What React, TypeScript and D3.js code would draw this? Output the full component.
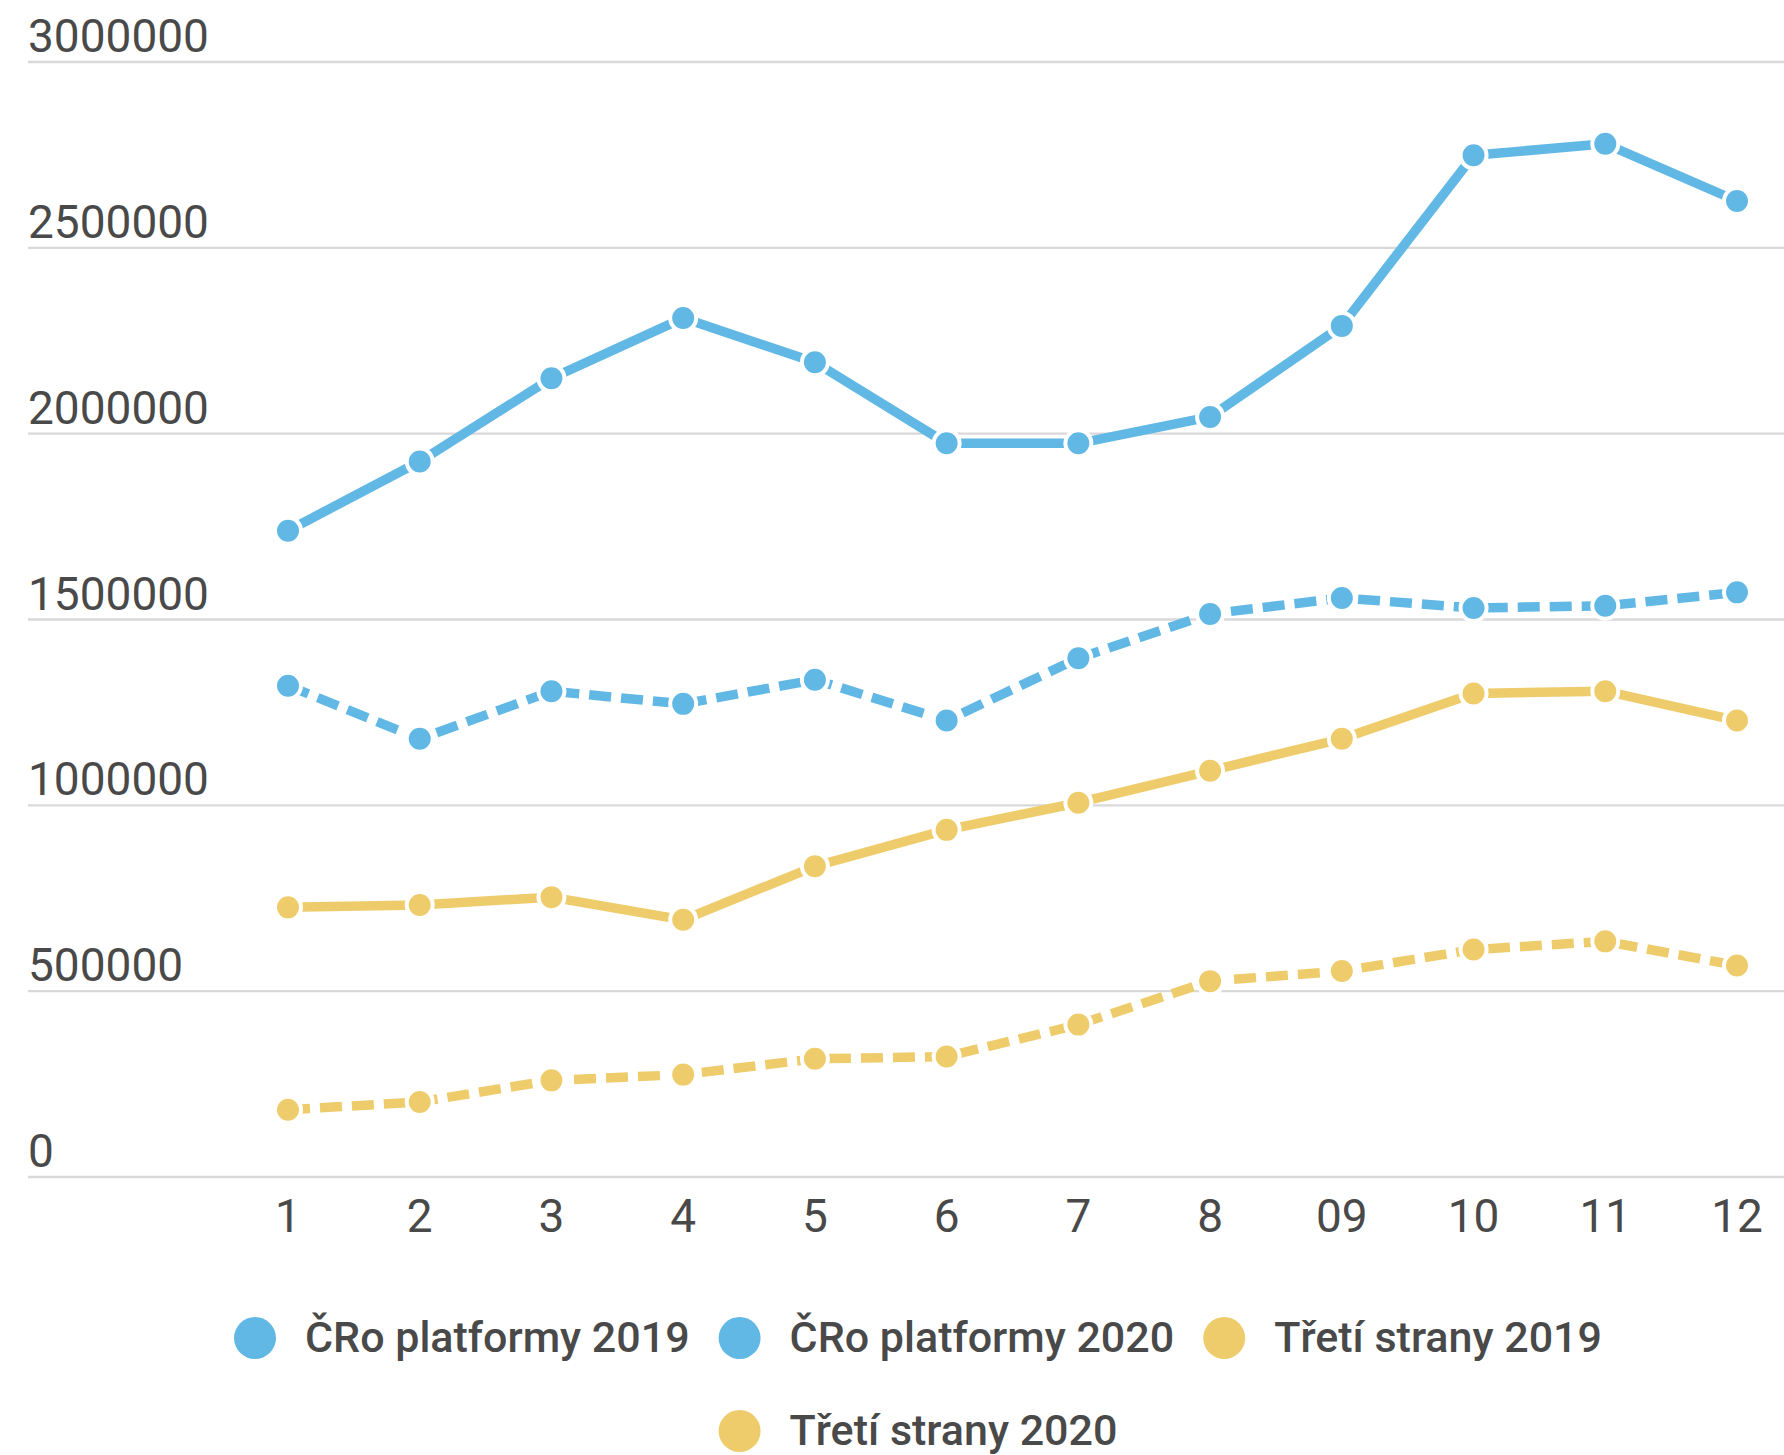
import React, { useEffect, useRef } from "react";
import * as d3 from "d3";

const months = ["1", "2", "3", "4", "5", "6", "7", "8", "09", "10", "11", "12"];
const yTicks = [0, 500000, 1000000, 1500000, 2000000, 2500000, 3000000];

const cro2019 = [1739000, 1925000, 2149000, 2311000, 2192000, 1974000, 1974000, 2045000, 2290000, 2749000, 2780000, 2626000];
const cro2020 = [1322000, 1179000, 1307000, 1273000, 1338000, 1228000, 1396000, 1515000, 1558000, 1531000, 1537000, 1573000];
const treti2019 = [725500, 732000, 753000, 692000, 836000, 934000, 1007000, 1093000, 1179000, 1301000, 1307000, 1228000];
const treti2020 = [181000, 202000, 260000, 275500, 318000, 324000, 410000, 527000, 554000, 612000, 634000, 569000];

const seriesNames = ["ČRo platformy 2019", "ČRo platformy 2020", "Třetí strany 2019", "Třetí strany 2020"];
const seriesValues = [cro2019, cro2020, treti2019, treti2020];
const seriesColors = ["#62b8e5", "#62b8e5", "#efcc6b", "#efcc6b"];
const seriesDashed = [false, true, false, true];

const W = 1784;
const H = 1455;
const FONT = "Roboto, 'Noto Sans', sans-serif";
const TEXT = "#494949";

export default function App() {
  const ref = useRef<SVGSVGElement | null>(null);

  useEffect(() => {
    const svg = d3.select(ref.current);
    svg.selectAll("*").remove();

    const x = d3.scalePoint<string>().domain(months).range([288, 1737]);
    const y = d3.scaleLinear().domain([0, 3000000]).range([1177, 62]);

    // gridlines
    const grid = svg.append("g");
    grid
      .selectAll("line")
      .data(yTicks)
      .join("line")
      .attr("x1", 28)
      .attr("x2", W)
      .attr("y1", (d) => y(d))
      .attr("y2", (d) => y(d))
      .attr("stroke", "#d9d9d9")
      .attr("stroke-width", 2.4);

    grid
      .selectAll("text")
      .data(yTicks)
      .join("text")
      .attr("x", 28)
      .attr("y", (d) => y(d) - 10)
      .attr("font-family", FONT)
      .attr("font-size", 46)
      .attr("fill", TEXT)
      .text((d) => String(d));

    // x labels
    svg
      .append("g")
      .selectAll("text")
      .data(months)
      .join("text")
      .attr("x", (d) => x(d) as number)
      .attr("y", 1232)
      .attr("text-anchor", "middle")
      .attr("font-family", FONT)
      .attr("font-size", 46)
      .attr("fill", TEXT)
      .text((d) => d);

    const line = d3
      .line<number>()
      .x((_, i) => x(months[i]) as number)
      .y((d) => y(d));

    seriesValues.forEach((vals, si) => {
      const g = svg.append("g");
      g.append("path")
        .attr("d", line(vals) as string)
        .attr("fill", "none")
        .attr("stroke", seriesColors[si])
        .attr("stroke-width", 9.5)
        .attr("stroke-linejoin", "round")
        .attr("stroke-dasharray", seriesDashed[si] ? "22,10" : null);
    });
    seriesValues.forEach((vals, si) => {
      svg
        .append("g")
        .selectAll("circle")
        .data(vals)
        .join("circle")
        .attr("cx", (_, i) => x(months[i]) as number)
        .attr("cy", (d) => y(d))
        .attr("r", 13)
        .attr("fill", seriesColors[si])
        .attr("stroke", "#fff")
        .attr("stroke-width", 4);
    });

    // legend
    const rows = [[0, 1, 2], [3]];
    const rowY = [1338, 1431];
    const centerX = 918;
    rows.forEach((row, ri) => {
      const lg = svg.append("g");
      let cursor = 0;
      row.forEach((si) => {
        const item = lg.append("g").attr("transform", `translate(${cursor},0)`);
        item
          .append("circle")
          .attr("cx", 21)
          .attr("cy", rowY[ri])
          .attr("r", 21)
          .attr("fill", seriesColors[si]);
        const t = item
          .append("text")
          .attr("x", 71)
          .attr("y", rowY[ri] + 14)
          .attr("font-family", FONT)
          .attr("font-size", 43)
          .attr("font-weight", 500)
          .attr("fill", TEXT)
          .text(seriesNames[si]);
        const tw = (t.node() as SVGTextElement).getComputedTextLength();
        cursor += 71 + tw + 29;
      });
      const total = cursor - 29;
      lg.attr("transform", `translate(${centerX - total / 2},0)`);
    });
  }, []);

  return (
    <svg
      ref={ref}
      width={W}
      height={H}
      style={{ position: "absolute", left: 0, top: 0, background: "#fff" }}
    />
  );
}
